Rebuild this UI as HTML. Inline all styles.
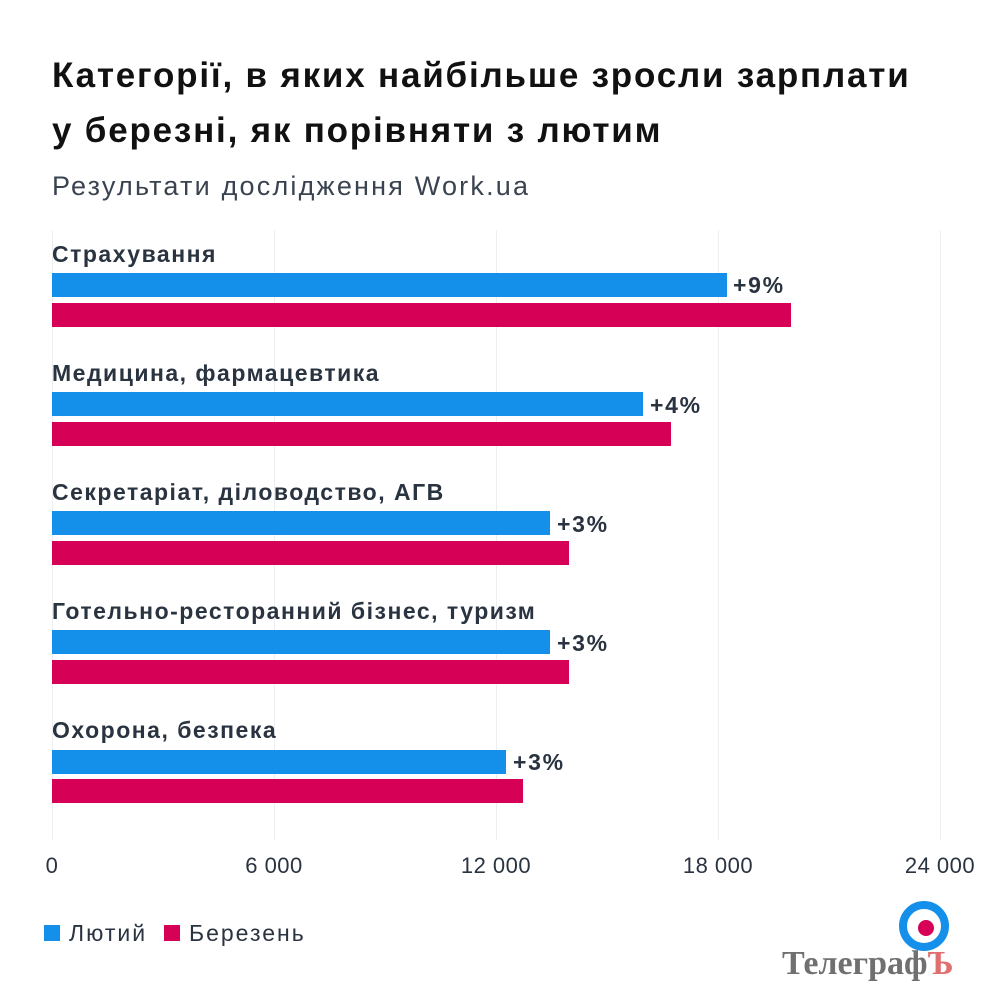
<!DOCTYPE html>
<html><head><meta charset="utf-8"><style>
body{margin:0;background:#fff;}
#c{position:relative;width:1000px;height:1000px;background:#fff;font-family:"Liberation Sans","DejaVu Sans",sans-serif;color:#1d2633;overflow:hidden}
.a{position:absolute;white-space:nowrap}
.t{font-size:35px;font-weight:bold;color:#111;letter-spacing:1.8px}
.g{position:absolute;top:230px;height:610px;width:1px;background:#eceef1}
.b{position:absolute;left:52px;height:24px;background:#1590ea}
.r{position:absolute;left:52px;height:24px;background:#d70057}
.l{font-size:23px;font-weight:bold;color:#2a3340;letter-spacing:1.5px}
.p{font-size:23px;font-weight:bold;color:#2a3340;letter-spacing:1.7px}
.x{font-size:22px;color:#2a3340;transform:translateX(-50%);letter-spacing:0.5px}
.lg{font-size:23px;color:#2a3340;letter-spacing:2px}
</style></head><body><div id="c">
<div class="a t" style="left:52px;top:56px">Категорії, в яких найбільше зросли зарплати</div>
<div class="a t" style="left:52px;top:111px">у березні, як порівняти з лютим</div>
<div class="a" style="left:52px;top:171px;font-size:27px;color:#3a4350;letter-spacing:2.2px">Результати дослідження Work.ua</div>
<div class="g" style="left:52px"></div><div class="g" style="left:274px"></div><div class="g" style="left:496px"></div><div class="g" style="left:718px"></div><div class="g" style="left:940px"></div>

<div class="a l" style="left:52px;top:241px">Страхування</div>
<div class="b" style="top:273px;width:675px"></div><div class="a p" style="left:733px;top:272px">+9%</div>
<div class="r" style="top:303px;width:739px"></div>

<div class="a l" style="left:52px;top:360px">Медицина, фармацевтика</div>
<div class="b" style="top:392px;width:591px"></div><div class="a p" style="left:650px;top:392px">+4%</div>
<div class="r" style="top:422px;width:619px"></div>

<div class="a l" style="left:52px;top:479px">Секретаріат, діловодство, АГВ</div>
<div class="b" style="top:511px;width:498px"></div><div class="a p" style="left:557px;top:511px">+3%</div>
<div class="r" style="top:541px;width:517px"></div>

<div class="a l" style="left:52px;top:598px">Готельно-ресторанний бізнес, туризм</div>
<div class="b" style="top:630px;width:498px"></div><div class="a p" style="left:557px;top:630px">+3%</div>
<div class="r" style="top:660px;width:517px"></div>

<div class="a l" style="left:52px;top:717px">Охорона, безпека</div>
<div class="b" style="top:750px;width:454px"></div><div class="a p" style="left:513px;top:749px">+3%</div>
<div class="r" style="top:779px;width:471px"></div>

<div class="a x" style="left:52px;top:853px">0</div>
<div class="a x" style="left:274px;top:853px">6 000</div>
<div class="a x" style="left:496px;top:853px">12 000</div>
<div class="a x" style="left:718px;top:853px">18 000</div>
<div class="a x" style="left:940px;top:853px">24 000</div>

<div class="a" style="left:44px;top:925px;width:16px;height:16px;background:#1590ea"></div>
<div class="a lg" style="left:69px;top:920px">Лютий</div>
<div class="a" style="left:164px;top:925px;width:16px;height:16px;background:#d70057"></div>
<div class="a lg" style="left:189px;top:920px">Березень</div>

<div class="a" style="left:899px;top:901px;width:34px;height:34px;border:8px solid #1590ea;border-radius:50%;background:#fff"></div>
<div class="a" style="left:918px;top:920px;width:16px;height:16px;border-radius:50%;background:#d70057"></div>
<div class="a" style="left:782px;top:945px;font-family:'Liberation Serif',serif;font-weight:bold;font-size:34px;color:#707070">Телеграф<span style="color:#e07070">Ъ</span></div>
</div></body></html>
